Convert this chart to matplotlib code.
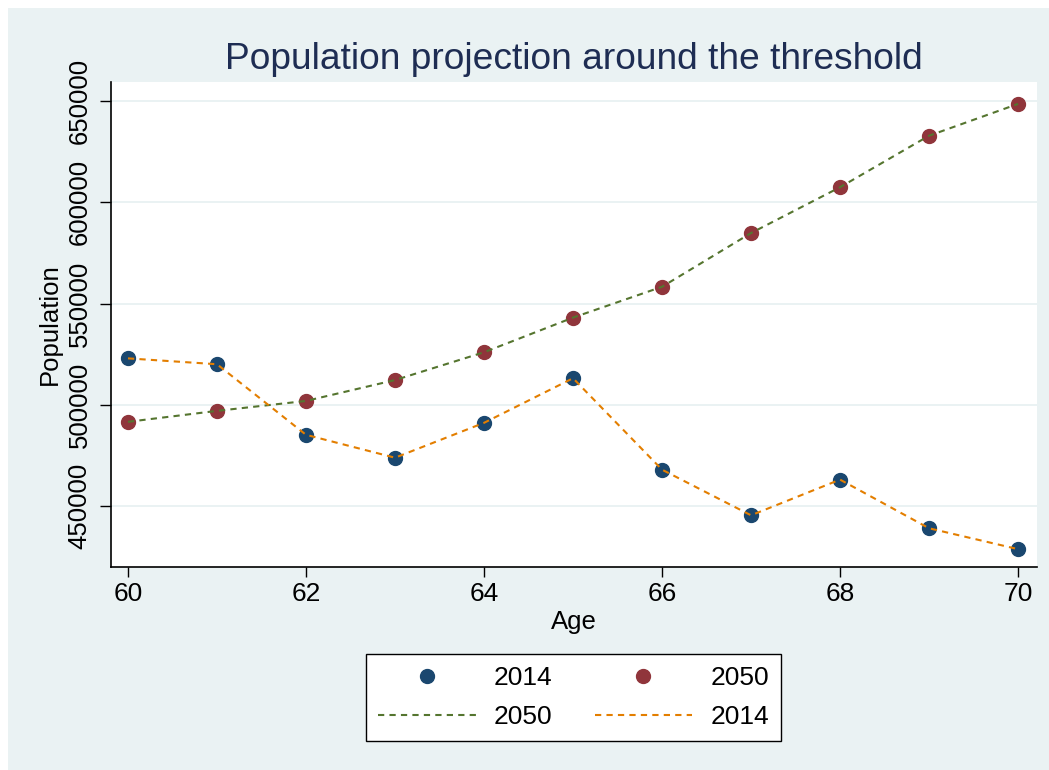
import matplotlib.pyplot as plt
from matplotlib.patches import Rectangle

plt.rcParams['font.family'] = ['Liberation Sans', 'DejaVu Sans']

ages = [60, 61, 62, 63, 64, 65, 66, 67, 68, 69, 70]
pop_2014 = [523000, 520100, 485300, 474000, 491200, 513200, 468100, 445600, 463200, 439200, 428900]
pop_2050 = [491700, 497100, 502000, 512300, 526000, 543100, 558300, 584800, 607400, 632800, 648500]
yticks = [450000, 500000, 550000, 600000, 650000]
xticks = [60, 62, 64, 66, 68, 70]

navy = '#1A476F'
maroon = '#90353B'
green = '#55752F'
orange = '#E37E00'
bg = '#EAF2F3'

fig = plt.figure(figsize=(10.49, 7.7), dpi=100)
fig.patch.set_facecolor('white')
fig.patches.append(Rectangle((8 / 1049, -0.05), 1.1, (770 - 8) / 770 + 0.05,
                             transform=fig.transFigure, facecolor=bg,
                             edgecolor='none', zorder=-10))

ax = fig.add_axes([111 / 1049, (770 - 567) / 770, (1037 - 111) / 1049, (567 - 82) / 770])
ax.set_zorder(1)
ax.set_facecolor('white')

for y in yticks:
    ax.axhline(y, color=bg, lw=1.4, zorder=1)

m1, = ax.plot(ages, pop_2014, 'o', color=navy, ms=10, mec=navy, zorder=3)
m2, = ax.plot(ages, pop_2050, 'o', color=maroon, ms=10, mec=maroon, zorder=3)
l2, = ax.plot(ages, pop_2050, color=green, lw=1.5, dashes=(3, 2.5), zorder=4)
l1, = ax.plot(ages, pop_2014, color=orange, lw=1.5, dashes=(3, 2.5), zorder=4)

ax.set_xlim(59.809, 70.213)
ax.set_ylim(420100, 659300)
ax.set_xticks(xticks)
ax.set_yticks(yticks)
ax.tick_params(axis='x', labelsize=19, length=7, width=1, pad=4)
ax.tick_params(axis='y', labelsize=18.5, length=8, width=1, pad=6)
for lab in ax.get_yticklabels():
    lab.set_rotation(90)
    lab.set_va('center')

for s in ['top', 'right']:
    ax.spines[s].set_visible(False)
for s in ['left', 'bottom']:
    ax.spines[s].set_linewidth(1.2)

ax.set_xlabel('Age', fontsize=18.5, labelpad=3)
ax.set_ylabel('Population', fontsize=18.5, labelpad=4)
ax.set_title('Population projection around the threshold', fontsize=26.7,
             color='#1E2D53', pad=9)

leg = fig.legend([m1, l2, m2, l1], ['2014', '2050', '2050', '2014'],
                 ncol=2, loc='center',
                 bbox_to_anchor=((365 + 782) / 2 / 1049, 1 - 697.5 / 770),
                 fontsize=19, handlelength=3.7, handletextpad=0.68,
                 columnspacing=1.6, frameon=True, fancybox=False,
                 framealpha=1, facecolor='white',
                 edgecolor='black', borderpad=0.45, labelspacing=0.55)
leg.get_frame().set_linewidth(1)

fig.savefig('out.png', dpi=100, facecolor=fig.get_facecolor())
